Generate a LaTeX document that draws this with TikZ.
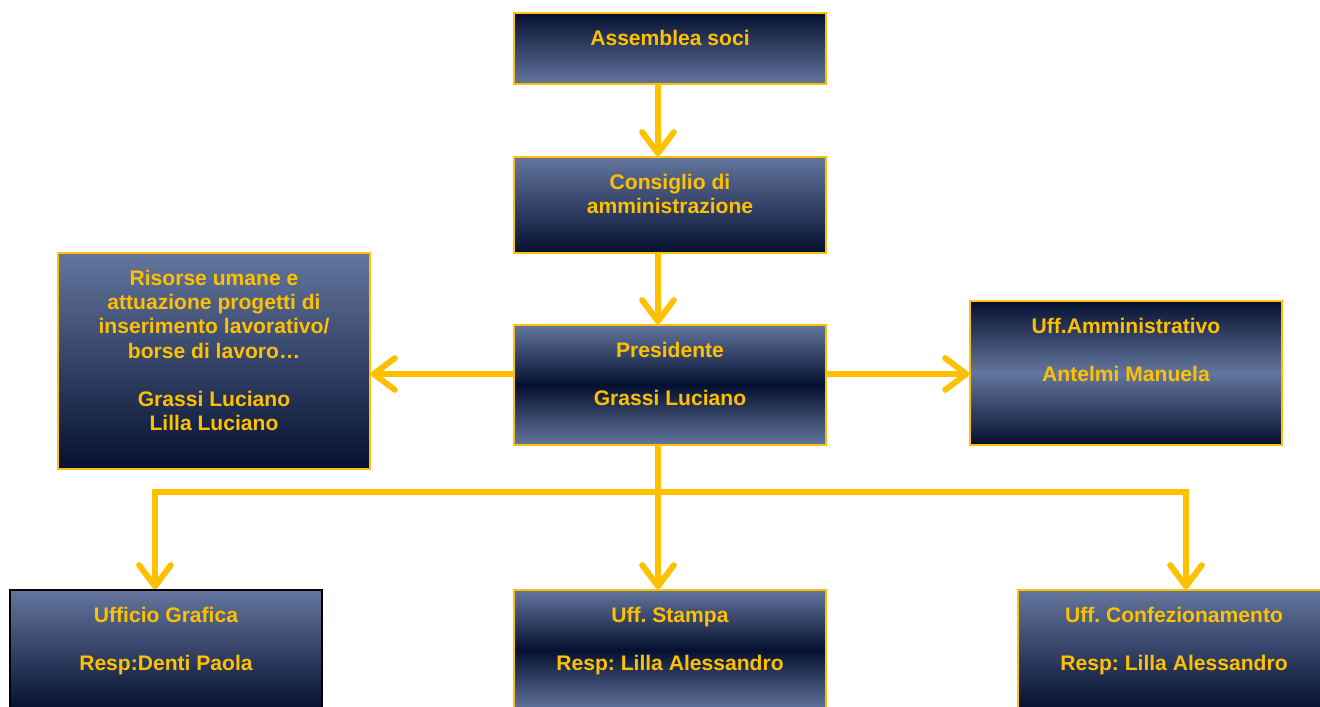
\documentclass[tikz,border=0pt]{standalone}
\usepackage{fontspec}
\setmainfont{Liberation Sans}
\usetikzlibrary{arrows.meta}
\usetikzlibrary{calc}

\definecolor{gold}{HTML}{FFC000}
\definecolor{navy}{HTML}{041030}
\definecolor{slate}{HTML}{64769E}

\tikzset{
  unit/.style={draw=gold, line width=0.9pt, minimum width=6.24cm, inner sep=0pt},
  fadedown/.style={top color=slate, bottom color=navy},
  fadeup/.style={top color=navy, bottom color=slate},
  darkmid/.style={top color=slate, bottom color=slate, middle color=navy},
  lightmid/.style={top color=navy, bottom color=navy, middle color=slate},
  caption/.style={anchor=north, inner sep=0pt, text=gold, align=center,
    font=\fontsize{12}{13.8}\selectfont\bfseries\frenchspacing},
  flow/.style={draw=gold, line width=3.4pt, -{Straight Barb[length=12pt, width=18pt, line width=3.4pt, round]}},
}

\begin{document}
\begin{tikzpicture}[x=0.02cm, y=-0.02cm]
		\useasboundingbox (0,0) rectangle (1320,707);
		
		% Top of the chain
		\node[unit, fadeup, minimum height=1.42cm] (asm) at (670,48.5) {};
		\node[caption] (asm-t) at ($(asm.north)+(0,17.5)$) {Assemblea soci};
		
		\node[unit, fadedown, minimum height=1.92cm] (cda) at (670,205) {};
		\node[caption] (cda-t) at ($(cda.north)+(0,17.5)$) {Consiglio di\\amministrazione};
		
		\node[unit, darkmid, minimum height=2.4cm] (pres) at (670,385) {};
		\node[caption] (pres-t) at ($(pres.north)+(0,17.5)$) {Presidente\\[13.8pt]Grassi Luciano};
		
		% Side offices
		\node[unit, fadedown, minimum height=4.32cm] (ris) at (214,361) {};
		\node[caption] (ris-t) at ($(ris.north)+(0,17.5)$) {Risorse umane e\\attuazione progetti di\\inserimento lavorativo/\\borse di lavoro\dots\\[13.8pt]Grassi Luciano\\Lilla Luciano};
		
		\node[unit, lightmid, minimum height=2.88cm] (amm) at (1126,373) {};
		\node[caption] (amm-t) at ($(amm.north)+(0,17.5)$) {Uff.Amministrativo\\[13.8pt]Antelmi Manuela};
		
		% Bottom offices
		\node[unit, fadedown, draw=black, minimum height=2.4cm] (gra) at (166,650) {};
		\node[caption] (gra-t) at ($(gra.north)+(0,17.5)$) {Ufficio Grafica\\[13.8pt]Resp:Denti Paola};
		
		\node[unit, darkmid, minimum height=2.4cm] (sta) at (670,650) {};
		\node[caption] (sta-t) at ($(sta.north)+(0,17.5)$) {Uff. Stampa\\[13.8pt]Resp: Lilla Alessandro};
		
		\node[unit, fadedown, minimum height=2.4cm] (con) at (1174,650) {};
		\node[caption] (con-t) at ($(con.north)+(0,17.5)$) {Uff. Confezionamento\\[13.8pt]Resp: Lilla Alessandro};
		
		% Connectors
		\draw[flow] ($(asm.south)+(-12,0)$) coordinate (a1) -- (a1 |- cda.north);
		\draw[flow] ($(cda.south)+(-12,0)$) coordinate (a2) -- (a2 |- pres.north);
		\draw[flow] ($(pres.west)+(0,-11)$) coordinate (pl) -- (pl -| ris.east);
		\draw[flow] ($(pres.east)+(0,-11)$) coordinate (pr) -- (pr -| amm.west);
		\draw[flow] ($(pres.south)+(-12,0)$) coordinate (p0) -- (p0 |- sta.north);
		\coordinate (hub) at (658,492);
		\draw[flow] (hub) -| ($(gra.north)+(-11,0)$);
		\draw[flow] (hub) -| ($(con.north)+(12,0)$);
		
	\end{tikzpicture}
\end{document}
